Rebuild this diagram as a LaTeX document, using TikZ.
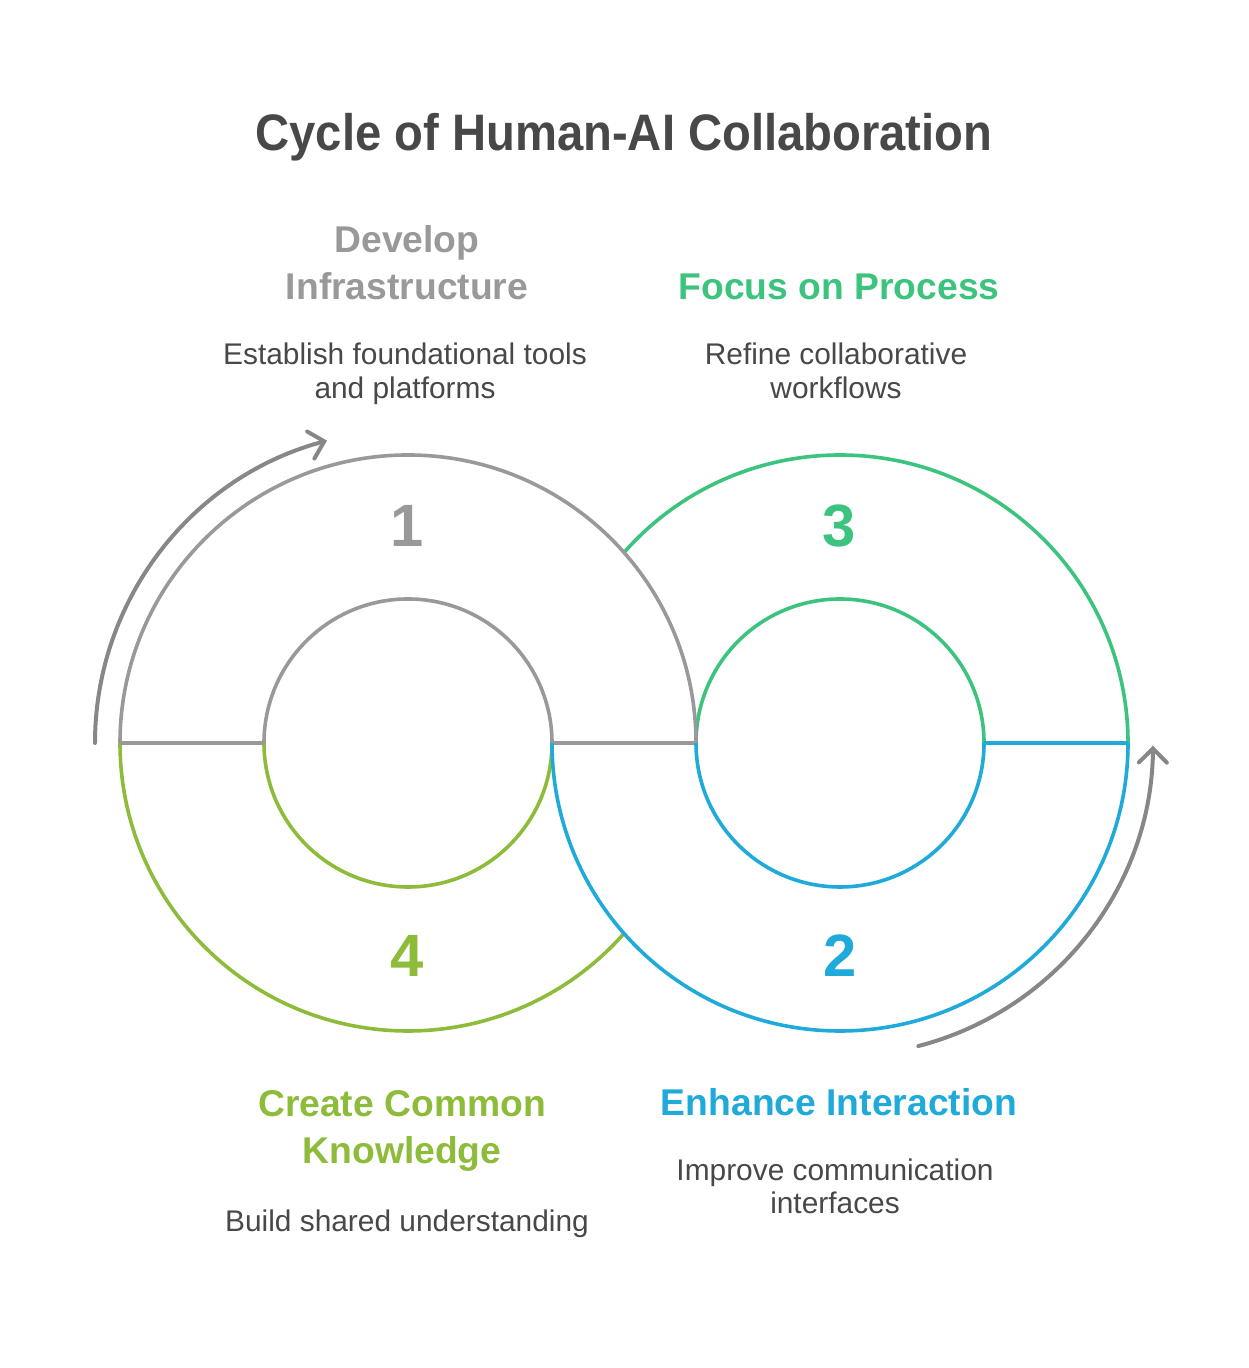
\documentclass[tikz,border=0pt]{standalone}
\usepackage{fontspec}
\setmainfont{Liberation Sans}
\newfontfamily\titlefont[FakeStretch=0.92]{Liberation Sans}
\usetikzlibrary{arrows.meta}
\definecolor{ringgray}{HTML}{999999}
\definecolor{arrowgray}{HTML}{878787}
\definecolor{txtdark}{HTML}{484848}
\definecolor{procgreen}{HTML}{3CC47E}
\definecolor{interblue}{HTML}{1FAAD9}
\definecolor{knowolive}{HTML}{8DBB3A}
\tikzset{
  ring/.style = {line width=0.36mm},
  flow/.style = {line width=0.4mm, arrowgray, line cap=round,
                 -{Straight Barb[length=1.4mm,width=2.8mm,line cap=round]}},
  ttl/.style  = {font=\titlefont\fontsize{14.6}{17}\selectfont\bfseries, text=txtdark,
                 anchor=base, inner sep=0pt},
  head/.style = {font=\fontsize{10.6}{13.4}\selectfont\bfseries, align=center,
                 anchor=base, inner sep=0pt},
  body/.style = {font=\fontsize{8.5}{9.67}\selectfont, text=txtdark, align=center,
                 anchor=base, inner sep=0pt},
  num/.style  = {font=\fontsize{17}{20}\selectfont\bfseries, anchor=base, inner sep=0pt},
}

\begin{document}
\begin{tikzpicture}[x=0.1mm,y=0.1mm]
  \useasboundingbox (0,0) rectangle (1248,1368);
  \coordinate (L) at (408,625);
  \coordinate (R) at (840,625);
  % lower left and upper right halves first
  \draw[ring,knowolive] (L) ++(180:288) arc[start angle=180,end angle=318.6,radius=288];
  \draw[ring,knowolive] (L) ++(180:144) arc[start angle=180,end angle=360,radius=144];
  \draw[ring,procgreen] (R) ++(138.6:288) arc[start angle=138.6,end angle=0,radius=288];
  \draw[ring,procgreen] (R) ++(180:144) arc[start angle=180,end angle=0,radius=144];
  \draw[ring,ringgray] (L) ++(180:288) arc[start angle=180,end angle=0,radius=288];
  \draw[ring,ringgray] (L) ++(180:144) arc[start angle=180,end angle=0,radius=144];
  \draw[ring,ringgray] (L) ++(180:288) -- ++(144,0);
  \draw[ring,ringgray] (L) ++(0:144) -- ++(144,0);
  \draw[ring,interblue] (R) ++(180:288) arc[start angle=180,end angle=360,radius=288];
  \draw[ring,interblue] (R) ++(180:144) arc[start angle=180,end angle=360,radius=144];
  \draw[ring,interblue] (R) ++(0:144) -- ++(144,0);
  \draw[flow] (L) ++(180:313) arc[start angle=180,end angle=105,radius=313];
  \draw[flow] (R) ++(-75.5:313) arc[start angle=-75.5,end angle=-0.5,radius=313];

  \node[ttl] (title) at (624,1217) {Cycle of Human-AI Collaboration};
  \node[head,text=ringgray] (infra) at (407,1068) {Develop\\Infrastructure};
  \node[body] (infradesc) at (405,969) {Establish foundational tools\\and platforms};
  \node[head,text=procgreen] (proc) at (839,1068) {Focus on Process};
  \node[body] (procdesc) at (836,969) {Refine collaborative\\workflows};
  \node[num,text=ringgray] (n1) at (407,821) {1};
  \node[num,text=procgreen] (n3) at (839,821) {3};
  \node[num,text=knowolive] (n4) at (407,391) {4};
  \node[num,text=interblue] (n2) at (840,391) {2};
  \node[head,text=knowolive] (know) at (402,204) {Create Common\\Knowledge};
  \node[body] (knowdesc) at (407,136) {Build shared understanding};
  \node[head,text=interblue] (inter) at (839,252) {Enhance Interaction};
  \node[body] (interdesc) at (835,154) {Improve communication\\interfaces};
\end{tikzpicture}
\end{document}
